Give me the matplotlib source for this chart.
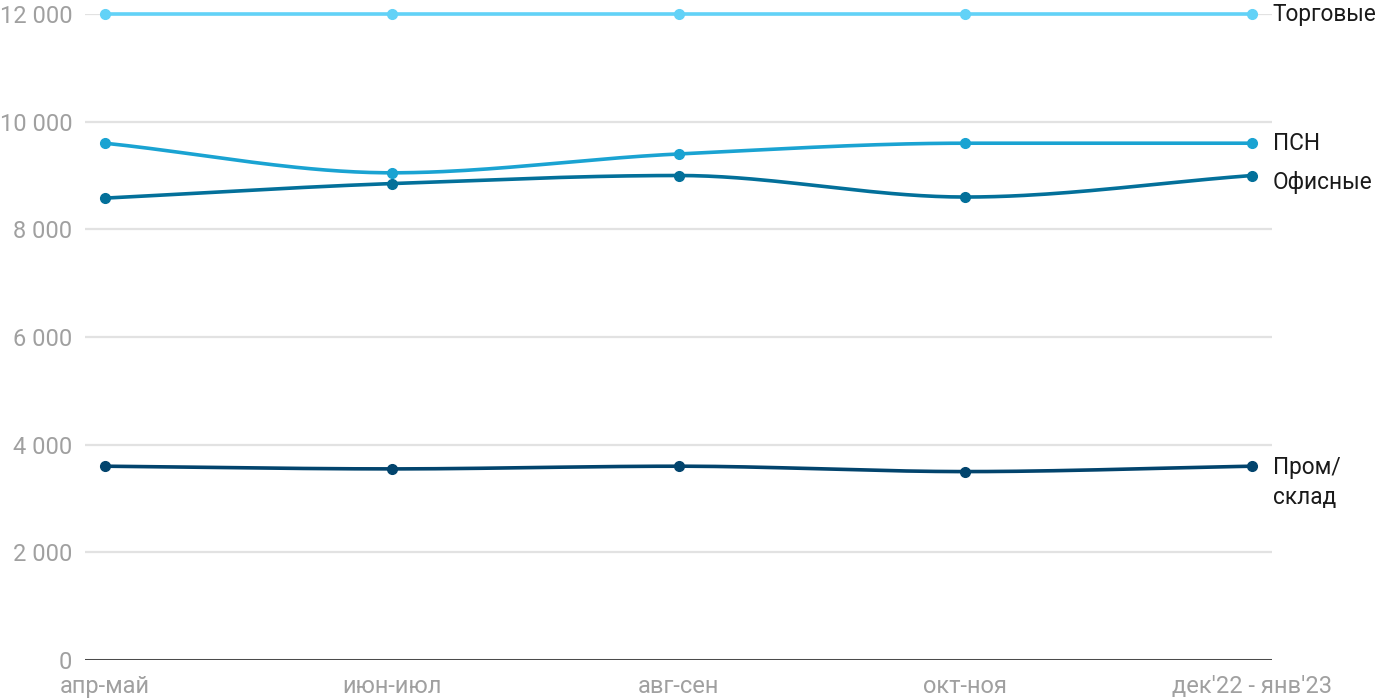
import matplotlib.pyplot as plt
import numpy as np

plt.rcParams['font.family'] = ['Roboto', 'DejaVu Sans']

periods = ["апр-май", "июн-июл", "авг-сен", "окт-ноя", "дек'22 - янв'23"]
torg = [12000, 12000, 12000, 12000, 12000]
psn = [9600, 9050, 9400, 9600, 9600]
ofis = [8580, 8850, 9000, 8600, 9000]
prom = [3600, 3550, 3600, 3500, 3600]

names = ["Торговые", "ПСН", "Офисные", "Пром/\nсклад"]
colors = ["#62d2f7", "#1aa3d2", "#03709a", "#02446d"]
series = [torg, psn, ofis, prom]


def monotone(x, y, n=40):
    # monotone cubic (Fritsch-Carlson) for smooth line drawing
    x = np.asarray(x, float)
    y = np.asarray(y, float)
    h = np.diff(x)
    d = np.diff(y) / h
    m = np.zeros_like(y)
    m[0], m[-1] = d[0], d[-1]
    for i in range(1, len(y) - 1):
        if d[i - 1] * d[i] <= 0:
            m[i] = 0
        else:
            m[i] = 2 / (1 / d[i - 1] + 1 / d[i])
    xs, ys = [], []
    for i in range(len(h)):
        t = np.linspace(0, 1, n)
        h00 = 2 * t**3 - 3 * t**2 + 1
        h10 = t**3 - 2 * t**2 + t
        h01 = -2 * t**3 + 3 * t**2
        h11 = t**3 - t**2
        xs.append(x[i] + t * h[i])
        ys.append(h00 * y[i] + h10 * h[i] * m[i] + h01 * y[i + 1] + h11 * h[i] * m[i + 1])
    return np.concatenate(xs), np.concatenate(ys)


fig = plt.figure(figsize=(14, 7), dpi=100)
ax = fig.add_axes([85 / 1400, 40 / 700, (1272 - 85) / 1400, (660 - 14) / 700])

x = np.arange(len(periods))
for vals, c, nm in zip(series, colors, names):
    sx, sy = monotone(x, vals)
    ax.plot(sx, sy, color=c, lw=2.6, solid_capstyle='round', clip_on=False, zorder=3)
    ax.plot(x, vals, 'o', color=c, ms=7, clip_on=False, zorder=4)

# label positions next to the last point (offsets in points)
label_y = [12000, 9600, 9000, 3600]
label_dy = [0, 0, -5, 7]
for ly, dy, nm in zip(label_y, label_dy, names):
    ax.annotate(nm, (x[-1], ly), xytext=(15, dy), textcoords='offset points',
                va='center' if '\n' not in nm else 'top', ha='left', fontsize=16.3,
                color='#1a1a1a', annotation_clip=False, linespacing=1.35)

ax.set_xlim(-20 / 286.75, 4 + 20 / 286.75)
ax.set_ylim(0, 12000)
ax.set_yticks(range(0, 12001, 2000))
ax.set_yticklabels([f"{v:,}".replace(",", " ") for v in range(0, 12001, 2000)])
ax.set_xticks(x)
ax.set_xticklabels(periods)

for s in ax.spines.values():
    s.set_visible(False)
ax.grid(axis='y', color='#e2e2e2', lw=1.6)
ax.set_axisbelow(True)
ax.axhline(0, color='#1a1a1a', lw=1.8, zorder=2)
ax.tick_params(length=0, labelsize=17, labelcolor='#a0a0a0')
ax.tick_params(axis='y', pad=9)
ax.tick_params(axis='x', pad=11)

fig.savefig("out.png", dpi=100)
